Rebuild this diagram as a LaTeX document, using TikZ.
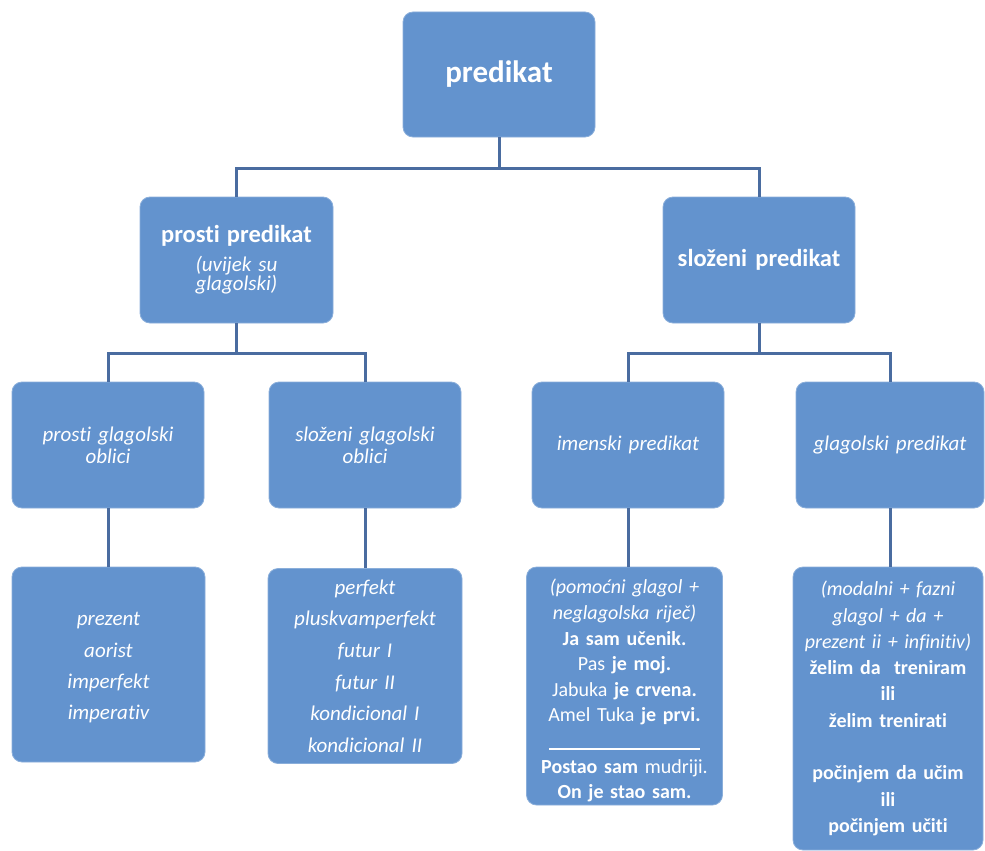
\documentclass[tikz,border=0pt]{standalone}
\usepackage{fontspec}
\setmainfont{Carlito}[Ligatures=NoCommon]
\definecolor{boxblue}{RGB}{99,147,206}
\definecolor{linkblue}{RGB}{74,108,160}
\begin{document}
\begin{tikzpicture}[x=1pt,y=-1pt,
  box/.style={fill=boxblue, draw=boxblue!75!white, line width=0.8pt,
    rounded corners=10pt, text=white, align=center, inner sep=2pt},
  conn/.style={draw=linkblue, line width=3pt}]
\useasboundingbox (0,0) rectangle (985,851);

% level 1
\node[box, minimum width=192pt, minimum height=125pt, text width=186pt,
  font=\fontsize{31}{34}\selectfont\bfseries] (top) at (499,74.5) {predikat};

% level 2
\node[box, minimum width=193pt, minimum height=126pt, text width=187pt,
  font=\fontsize{21}{19.5}\selectfont] (prosti) at (236.5,260)
  {{\fontsize{24.5}{26}\selectfont\bfseries prosti predikat}\\[9pt]
   \textit{(uvijek su}\\ \textit{glagolski)}};
\node[box, minimum width=192pt, minimum height=126pt, text width=186pt,
  font=\fontsize{24.5}{26}\selectfont\bfseries] (slozeni) at (759,260)
  {složeni predikat};

% level 3
\tikzset{midbox/.style={box, minimum width=192pt, minimum height=126pt,
  text width=186pt, font=\fontsize{21}{22}\selectfont\itshape}}
\node[midbox] (pgo) at (108,445) {prosti glagolski\\ oblici};
\node[midbox] (sgo) at (365,445) {složeni glagolski\\ oblici};
\node[midbox] (imp) at (628,445) {imenski predikat};
\node[midbox, minimum width=188pt, text width=184pt] (glp) at (890,445) {glagolski predikat};

% level 4
\node[box, minimum width=193pt, minimum height=195pt, text width=187pt,
  font=\fontsize{21}{31.3}\selectfont\itshape] (pgl) at (108.5,664.5)
  {\rule{0pt}{20pt}prezent\\ aorist\\ imperfekt\\ imperativ};
\node[box, minimum width=194pt, minimum height=195pt, text width=188pt,
  font=\fontsize{21}{31.6}\selectfont\itshape] (sgl) at (365,666)
  {perfekt\\ pluskvamperfekt\\ futur I\\ futur II\\ kondicional I\\ kondicional II};
\node[box, minimum width=196pt, minimum height=238pt, text width=192pt,
  font=\fontsize{20}{25.6}\selectfont] (imx) at (624.5,686)
  {\rule{0pt}{24pt}\textit{(pomoćni glagol +}\\ \textit{neglagolska riječ)}\\
   \textbf{Ja sam učenik.}\\ Pas \textbf{je moj.}\\
   Jabuka \textbf{je crvena.}\\ Amel Tuka \textbf{je prvi.}\\[2pt]
   \rule{151pt}{1.2pt}\\[-2pt]
   \textbf{Postao sam} mudriji.\\ \textbf{On je stao sam.}};
\node[box, minimum width=190pt, minimum height=283pt, text width=188pt,
  inner sep=1pt, font=\fontsize{20}{26.3}\selectfont] (glx) at (888,708.5)
  {\textit{(modalni + fazni}\\ \textit{glagol + da +}\\
   \textit{prezent ii + infinitiv)}\\
   \textbf{želim da\ \ treniram}\\ \textbf{ili}\\ \textbf{želim trenirati}\\
   \mbox{}\\
   \textbf{počinjem da učim}\\ \textbf{ili}\\ \textbf{počinjem učiti}};

% bus lines
\coordinate (bus1) at (0,168);
\coordinate (bus2) at (0,353);

\draw[conn] (top.south) -- (top.south |- bus1);
\draw[conn] (prosti.north) |- (bus1 -| slozeni.north) -- (slozeni.north);

\draw[conn] (prosti.south) -- (prosti.south |- bus2);
\draw[conn] (pgo.north) |- (bus2 -| sgo.north) -- (sgo.north);
\draw[conn] (slozeni.south) -- (slozeni.south |- bus2);
\draw[conn] (imp.north) |- (bus2 -| glp.north) -- (glp.north);

\draw[conn] (pgo.south) -- (pgo.south |- pgl.north);
\draw[conn] (sgo.south) -- (sgo.south |- sgl.north);
\draw[conn] (imp.south) -- (imp.south |- imx.north);
\draw[conn] (glp.south) -- (glp.south |- glx.north);
\end{tikzpicture}
\end{document}
